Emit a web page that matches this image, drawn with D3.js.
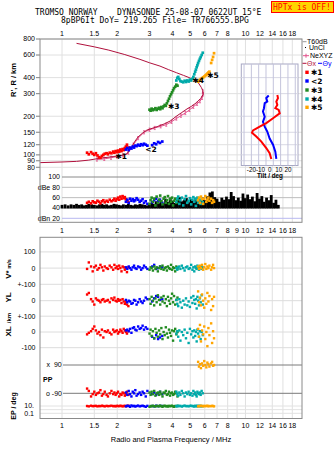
<!DOCTYPE html>
<html>
<head>
<meta charset="utf-8">
<script src="https://cdn.jsdelivr.net/npm/d3@7"></script>
<style>
body { margin: 0; background: #fff; }
svg { display: block; }
text { font-family: "Liberation Sans", Arial, sans-serif; }
</style>
</head>
<body>
<div id="wrapper"></div>
<script>
// ---- tick values ----
const topTicks = [1, 1.5, 2, 3, 4, 5, 6, 7, 8, 10, 12, 14, 16, 18];
const midTicks = [1, 1.5, 2, 3, 4, 5, 6, 7, 8, 9, 10, 12, 14, 16, 18];
const gridFreqs = [1, 1.5, 2, 3, 4, 5, 6, 7, 8, 9, 10, 12, 14, 16, 18];
const heightTicks = [80, 90, 100, 120, 150, 200, 300, 400, 600, 800];
const ampTicks = [100, 80, 60, 40, 20];
const ampLabels = ["100", "dBe 80", "60", "40", "dBn 20"];
const tiltGrid = [-28, -20, -12, -4, 4, 12, 20, 28];
const tiltTicks = [-20, -10, 0, 10, 20];

// ---- echoes: [freq MHz, R' km, amp dB, V* m/s, YL km, XL km, PP deg, EP deg] ----
const echo1 = [
  [1.37,104,50,-5,40,-15,-60,10],[1.40,101,52,35,50,-5,-75,8],[1.44,105,49,10,10,5,-110,12],
  [1.47,102,53,-20,-5,20,-95,9],[1.50,100,51,5,-25,35,-80,10],[1.53,103,50,15,15,10,-100,11],
  [1.56,99,54,-10,5,-10,-90,8],[1.59,96,52,0,0,0,-85,10],[1.62,95,49,20,-10,-20,-70,9],
  [1.65,98,53,5,5,15,-105,12],[1.68,100,55,-15,10,-35,-95,10],[1.71,102,51,10,-5,5,-80,8],
  [1.75,103,54,0,0,0,-100,11],[1.78,101,52,-5,5,10,-110,9],[1.82,104,56,15,-10,-5,-90,10],
  [1.86,103,53,5,15,-15,-75,12],[1.90,106,55,-10,5,15,-95,9],[1.93,104,58,20,20,0,-85,10],
  [1.96,107,54,0,0,5,-100,8],[1.99,105,57,10,-5,10,-90,11],[2.02,108,60,-5,10,-10,-80,10],
  [2.05,106,56,15,0,0,-110,9],[2.08,110,62,0,5,15,-95,12],[2.11,107,58,-20,-15,5,-100,10],
  [2.14,111,63,10,10,-5,-85,8],[2.17,109,59,5,-5,20,-90,10],[2.20,113,61,-10,-20,10,-105,11],
  [2.23,116,57,0,-10,0,-95,9],[2.26,120,55,-25,-25,-10,-80,10],[2.30,114,52,5,-35,5,-100,12]
];
const echo2 = [
  [2.23,110,52,5,5,10,-85,8],[2.27,113,56,-5,-10,15,-100,12],[2.31,109,50,10,0,5,-75,10],
  [2.35,114,58,0,-5,20,-95,6],[2.39,112,54,-10,-20,-5,-110,14],[2.43,116,57,5,-15,25,-80,9],
  [2.47,114,53,15,5,30,-90,11],[2.51,118,55,0,0,15,-70,7],[2.55,117,59,-5,-25,10,-105,10],
  [2.60,120,56,10,-10,35,-95,13],[2.65,118,52,5,10,20,-85,8],[2.70,121,54,-10,-5,25,-100,10],
  [2.75,119,57,0,-15,40,-80,12],[2.80,122,50,15,0,15,-90,9],[2.86,120,53,5,20,30,-110,6],
  [2.92,118,48,-5,10,20,-75,11],[3.10,119,51,10,-5,-30,-95,10],[3.18,123,55,20,15,-40,-85,8],
  [3.26,121,58,-5,30,-20,-100,12],[3.34,126,53,0,25,-45,-90,9],[3.42,124,56,10,5,-35,-80,11],
  [3.52,127,50,5,10,-25,-95,10]
];
const echo3 = [
  [3.00,225,48,-10,10,-10,-85,6],[3.04,221,55,5,-20,15,-100,10],[3.08,229,60,0,25,-25,-80,8],
  [3.13,223,52,-15,0,5,-95,12],[3.18,226,58,10,-30,-40,-75,9],[3.23,231,45,-5,15,20,-105,7],
  [3.28,224,62,5,-10,-5,-90,11],[3.33,229,50,-20,35,-30,-85,10],[3.38,233,56,0,5,10,-100,8],
  [3.43,227,64,10,-25,-15,-80,13],[3.48,236,53,-5,20,25,-95,9],[3.53,231,47,15,-5,-45,-110,6],
  [3.58,239,58,-10,30,0,-85,10],[3.63,245,61,0,-15,-20,-90,12],[3.68,241,50,5,10,30,-75,8],
  [3.73,252,55,-15,-35,-10,-100,10],[3.78,263,63,10,25,-35,-95,7],[3.83,274,48,0,0,15,-80,11],
  [3.88,286,57,-5,-20,-5,-105,9],[3.93,297,52,20,15,-25,-90,10],[3.98,307,60,-10,45,10,-85,12],
  [4.03,319,45,5,-10,-55,-100,8],[4.08,331,54,0,30,5,-95,6],[4.14,340,58,-20,-25,20,-80,10],
  [4.20,352,50,10,5,-15,-90,9],[4.26,346,56,-5,20,0,-110,11]
];
const echo4 = [
  [4.20,380,52,0,5,-10,-80,10],[4.25,398,58,-10,-20,5,-95,8],[4.30,405,62,5,-35,-30,-105,12],
  [4.36,390,48,10,10,10,-85,9],[4.42,376,55,-5,-10,-55,-100,11],[4.50,372,60,15,-45,0,-75,7],
  [4.58,368,45,0,0,-20,-90,10],[4.66,378,57,-15,-25,15,-110,13],[4.74,370,63,5,15,-40,-85,9],
  [4.82,380,50,10,-30,-5,-95,10],[4.90,373,54,-5,-5,-70,-80,8],[4.98,386,59,0,-40,20,-100,11],
  [5.06,380,47,20,20,-15,-90,12],[5.14,392,56,-10,-15,5,-105,9],[5.20,405,61,5,30,-35,-75,10],
  [5.26,425,52,-20,5,10,-95,7],[5.32,445,58,10,-20,-25,-85,11],[5.37,462,44,0,10,0,-100,10],
  [5.42,482,55,-5,-50,-60,-110,8],[5.47,500,60,15,25,15,-80,12],[5.52,520,50,5,0,-10,-90,9],
  [5.58,540,57,-10,-30,-30,-95,10],[5.64,560,53,0,15,5,-85,11],[5.70,578,48,10,-10,-45,-100,8],
  [5.77,600,56,-5,35,0,-75,10],[5.85,625,51,5,-25,-20,-90,9]
];
const echo5 = [
  [5.52,372,55,10,60,20,110,8],[5.58,378,60,-5,-10,-30,80,10],[5.65,385,50,15,20,45,95,9],
  [5.72,390,62,0,-30,-60,70,12],[5.80,396,57,20,40,10,100,10],[5.88,402,48,-10,0,-15,85,8],
  [5.96,408,58,5,-45,35,115,11],[6.04,415,63,25,15,-45,90,9],[6.12,422,52,-5,-20,0,75,10],
  [6.20,430,56,10,50,-90,105,12],[6.28,438,60,0,-5,25,95,8],[6.36,445,54,15,30,-20,80,10],
  [6.50,520,58,-10,-60,55,100,9],[6.58,550,50,5,10,-70,110,11],[6.66,580,55,20,-35,5,85,10],
  [6.74,620,52,0,25,-40,90,8]
];
const echoColors = ["#ff0000", "#0000ff", "#228b22", "#00aaaa", "#ffa500"];
const echoLabels = ["\u27311", "<2", "\u27313", "\u27314", "\u27315"];

// trace markers
const markerFreq = [2.02, 2.94, 3.91, 5.32, 6.40];
const markerHeight = [97, 111, 237, 379, 414];

// profile curve (freq, height)
const profile = [
  [0.76,87],[1.0,88],[1.2,89],[1.4,91],[1.6,94],[1.9,97],[2.1,99],[2.25,101],[2.3,106],
  [2.4,116],[2.5,128],[2.6,138],[2.75,148],[2.9,156],[3.1,161],[3.3,166],[3.6,174],
  [3.9,184],[4.2,200],[4.5,214],[4.8,228],[5.1,240],[5.4,255],[5.7,275],[5.88,296],
  [5.85,318],[5.75,335],[5.55,362],[5.3,380],[4.98,398],[4.6,416],[4.22,436],[3.8,462],
  [3.42,492],[3.0,522],[2.66,555],[2.2,605],[1.8,655],[1.5,695],[1.2,740]
];
// NeXYZ points
const nexyz = [
  [1.55,92],[1.7,93],[1.85,95],[2.0,97],[2.15,99],[2.3,104],[2.45,120],[2.6,135],
  [2.8,150],[3.0,157],[3.2,162],[3.45,167],[3.7,172],[3.95,181],[4.2,192],[4.45,202],
  [4.7,212],[4.95,224],[5.2,237],[5.45,250],[5.65,262],[5.8,278],[5.87,296],[5.85,312]
];
// tilt (deg, height km)
const tiltX = [
  [8.4,293],[9.1,277],[7.3,260],[8.4,245],[6.2,231],[9.9,224],[11,211],[3.7,193],
  [-3.7,177],[-10.9,166],[-18.2,155],[-19.3,149],[-14.6,139],[-9.1,127],[-3.7,113],[0,103],[1.8,93]
];
const tiltY = [
  [-1,290],[-3.7,277],[-2.6,260],[-5.4,253],[-6.2,231],[-7.3,218],[-5.4,198],[-7.3,181],
  [-5.4,166],[-2.6,152],[0,134],[3.7,120],[6.2,106],[7.3,93]
];
// receiver amplitude (freq, dB)
const ampTrace = [
  [1.00,46],[1.04,47],[1.08,45],[1.12,47],[1.16,46],[1.20,48],[1.24,46],[1.28,47],[1.32,45],
  [1.36,46],[1.40,48],[1.45,47],[1.50,46],[1.55,45],[1.60,47],[1.65,48],[1.70,46],[1.75,47],
  [1.80,45],[1.86,46],[1.92,48],[1.98,47],[2.04,46],[2.10,45],[2.16,47],[2.23,46],[2.30,48],
  [2.37,46],[2.44,45],[2.51,47],[2.58,46],[2.66,48],[2.74,47],[2.82,46],[2.90,45],[2.99,47],
  [3.08,50],[3.17,48],[3.26,53],[3.36,49],[3.46,55],[3.56,50],[3.67,58],[3.78,52],[3.89,60],
  [4.00,54],[4.12,50],[4.24,57],[4.37,61],[4.50,53],[4.63,56],[4.77,59],[4.91,51],[5.06,57],
  [5.21,54],[5.37,58],[5.53,53],[5.69,56],[5.86,60],[6.04,55],[6.22,63],[6.40,70],[6.60,72],
  [6.80,61],[7.00,58],[7.21,52],[7.43,60],[7.65,56],[7.88,62],[8.12,57],[8.36,71],[8.61,63],
  [8.87,55],[9.14,60],[9.41,54],[9.69,68],[9.98,59],[10.28,66],[10.59,57],[10.91,62],[11.24,53],
  [11.57,69],[11.92,58],[12.28,63],[12.65,52],[13.03,60],[13.42,55],[13.82,65],[14.24,50],
  [14.66,56],[15.10,46]
];

const W = 335, H = 451;
const svg = d3.select("#wrapper").append("svg").attr("width", W).attr("height", H);

const fx = d3.scaleLog().domain([1, 18]).range([62, 292.3]);
const hy = d3.scaleLog().domain([80, 800]).range([167.3, 39]);
const ay = d3.scaleLinear().domain([20, 100]).range([218.3, 177]);
const vy = d3.scaleLinear().domain([-100, 100]).range([284.3, 251.9]);
const yly = d3.scaleLinear().domain([-100, 100]).range([316.2, 285.2]);
const xly = d3.scaleLinear().domain([-100, 100]).range([347.7, 316.3]);
const ppy = d3.scaleLinear().domain([-90, 90]).range([393.3, 365]);
const epy = d3.scaleLog().domain([0.1, 10]).range([413.3, 406]);
const tx = d3.scaleLinear().domain([-31, 31]).range([241.3, 298]);

const L = 40, R = 302;
const topY0 = 39, topY1 = 222.3, lowY0 = 237.3, lowY1 = 418.5;
const gridCol = "#e0e0e0", frameCol = "#8a8a8a";

// title
svg.append("text").attr("x", 35).attr("y", 15)
  .attr("xml:space", "preserve")
  .style("font-family", "'DejaVu Sans Mono', monospace").style("font-size", "8px")
  .text("TROMSO NORWAY    DYNASONDE 25-08-07 0622UT 15\u00b0E");
svg.append("text").attr("x", 61).attr("y", 22.8)
  .style("font-family", "'DejaVu Sans Mono', monospace").style("font-size", "8px")
  .text("8pBP6It DoY= 219.265 File= TR766555.BPG");
svg.append("rect").attr("x", 271.5).attr("y", 1.5).attr("width", 62).attr("height", 11)
  .attr("fill", "#ffd400").attr("stroke", "#ff0000");
svg.append("text").attr("x", 273).attr("y", 10)
  .style("font-family", "'DejaVu Sans Mono', monospace").style("font-size", "8px")
  .attr("fill", "#ff0000").text("HPTx is OFF!");

// vertical grid
[[topY0, topY1], [lowY0, lowY1]].forEach(([a, b]) => {
  svg.append("g").selectAll("line").data(gridFreqs).join("line")
    .attr("x1", d => fx(d)).attr("x2", d => fx(d)).attr("y1", a).attr("y2", b)
    .attr("stroke", gridCol);
});

// height grid + labels
svg.append("g").selectAll("line").data(heightTicks).join("line")
  .attr("x1", 36).attr("x2", R).attr("y1", d => hy(d)).attr("y2", d => hy(d))
  .attr("stroke", gridCol);
svg.append("g").selectAll("line").data(heightTicks).join("line")
  .attr("x1", 36).attr("x2", L).attr("y1", d => hy(d)).attr("y2", d => hy(d))
  .attr("stroke", frameCol);
svg.append("g").selectAll("text").data(heightTicks).join("text")
  .attr("x", 35).attr("y", d => hy(d)).attr("dy", "0.35em").attr("text-anchor", "end")
  .style("font-size", "7px").text(d => d);

// amplitude grid
svg.append("g").selectAll("line").data(ampTicks).join("line")
  .attr("x1", 62).attr("x2", R).attr("y1", d => ay(d)).attr("y2", d => ay(d))
  .attr("stroke", (d, i) => i === 0 ? frameCol : (d === 20 ? "#b8b8f0" : "#bdbdbd"));
svg.append("g").selectAll("text").data(ampTicks).join("text")
  .attr("x", 60).attr("y", d => ay(d)).attr("dy", "0.35em").attr("text-anchor", "end")
  .style("font-size", "7px").text((d, i) => ampLabels[i]);

// frequency labels
svg.append("g").selectAll("text").data(topTicks).join("text")
  .attr("x", d => fx(d)).attr("y", 35.5).attr("text-anchor", "middle")
  .style("font-size", "7px").text(d => d);
svg.append("g").selectAll("text").data(midTicks).join("text")
  .attr("x", d => fx(d)).attr("y", 232.5).attr("text-anchor", "middle")
  .style("font-size", "7px").text(d => d);
svg.append("g").selectAll("text").data(topTicks).join("text")
  .attr("x", d => fx(d)).attr("y", 428.3).attr("text-anchor", "middle")
  .style("font-size", "7px").text(d => d);

// clip for height panel
svg.append("defs").append("clipPath").attr("id", "clipMain")
  .append("rect").attr("x", L).attr("y", topY0).attr("width", R - L).attr("height", 172 - topY0);
const main = svg.append("g").attr("clip-path", "url(#clipMain)");

// NeXYZ line with small I markers
const line = d3.line().x(d => fx(d[0])).y(d => hy(d[1]));
main.append("path").datum(nexyz).attr("d", line)
  .attr("fill", "none").attr("stroke", "#e2508c").attr("stroke-width", 1);
const iMark = main.append("g").attr("stroke", "#e2508c").attr("stroke-width", 0.8);
nexyz.forEach(d => {
  const x = fx(d[0]), y = hy(d[1]);
  iMark.append("line").attr("x1", x).attr("x2", x).attr("y1", y - 1.6).attr("y2", y + 1.6);
  iMark.append("line").attr("x1", x - 1).attr("x2", x + 1).attr("y1", y - 1.6).attr("y2", y - 1.6);
  iMark.append("line").attr("x1", x - 1).attr("x2", x + 1).attr("y1", y + 1.6).attr("y2", y + 1.6);
});
// profile line
main.append("path").datum(profile).attr("d", line)
  .attr("fill", "none").attr("stroke", "#b0103c").attr("stroke-width", 1);

// echoes
const groups = [echo1, echo2, echo3, echo4, echo5];
const sq = 2.7;
groups.forEach((g, gi) => {
  main.append("g").selectAll("rect").data(g).join("rect")
    .attr("x", d => fx(d[0]) - sq / 2).attr("y", d => hy(d[1]) - sq / 2)
    .attr("width", sq).attr("height", sq).attr("fill", echoColors[gi]);
});
// trace markers
main.append("g").selectAll("text").data(markerFreq).join("text")
  .attr("x", d => fx(d) - 2.6).attr("y", (d, i) => hy(markerHeight[i])).attr("dy", "0.35em")
  .style("font-family", "'DejaVu Sans', sans-serif").style("font-size", "7.5px")
  .style("font-weight", "bold").text((d, i) => echoLabels[i]);

// tilt inset
svg.append("rect").attr("x", tx(-31)).attr("y", 64).attr("width", tx(31) - tx(-31)).attr("height", 101.5)
  .attr("fill", "#fff").attr("stroke", "#a8a8c4");
svg.append("g").selectAll("line").data(heightTicks.filter(d => hy(d) > 64 && hy(d) < 165.5)).join("line")
  .attr("x1", tx(-31)).attr("x2", tx(31)).attr("y1", d => hy(d)).attr("y2", d => hy(d))
  .attr("stroke", "#d8d8e4");
svg.append("g").selectAll("line").data(tiltGrid).join("line")
  .attr("x1", d => tx(d)).attr("x2", d => tx(d)).attr("y1", 64).attr("y2", 165.5)
  .attr("stroke", "#c4c4dc");
const tline = d3.line().x(d => tx(d[0])).y(d => hy(d[1]));
svg.append("path").datum(tiltY).attr("d", tline).attr("fill", "none")
  .attr("stroke", "#0000ff").attr("stroke-width", 2);
svg.append("path").datum(tiltX).attr("d", tline).attr("fill", "none")
  .attr("stroke", "#ff0000").attr("stroke-width", 2);
svg.append("g").selectAll("text").data(tiltTicks).join("text")
  .attr("x", d => tx(d)).attr("y", 172).attr("text-anchor", "middle")
  .style("font-size", "6.3px").text(d => d);
svg.append("text").attr("x", 270).attr("y", 177.5).attr("text-anchor", "middle")
  .style("font-size", "6.3px").style("font-weight", "bold").text("Tilt / deg");

// amplitude trace
svg.append("g").selectAll("line").data(ampTrace).join("line")
  .attr("x1", d => fx(d[0])).attr("x2", d => fx(d[0]))
  .attr("y1", ay(39)).attr("y2", d => ay(d[1]))
  .attr("stroke", "#000").attr("stroke-width", 2.8);
groups.forEach((g, gi) => {
  svg.append("g").selectAll("rect").data(g).join("rect")
    .attr("x", d => fx(d[0]) - 1.3).attr("y", d => ay(d[2]) - 1.3)
    .attr("width", 2.6).attr("height", 2.6).attr("fill", echoColors[gi]);
});

// lower panels grid
const lowLines = [
  [vy, 100], [vy, 0], [vy, -100], [yly, 0], [yly, -100], [xly, 0], [xly, -100]
];
svg.append("g").selectAll("line").data(lowLines).join("line")
  .attr("x1", L).attr("x2", R).attr("y1", d => d[0](d[1])).attr("y2", d => d[0](d[1]))
  .attr("stroke", "#dcdcdc");
svg.append("g").selectAll("line").data([10, 1, 0.1]).join("line")
  .attr("x1", L).attr("x2", R).attr("y1", d => epy(d)).attr("y2", d => epy(d))
  .attr("stroke", "#e2e2e2");
svg.append("g").selectAll("line").data([90, -90]).join("line")
  .attr("x1", 63).attr("x2", R).attr("y1", d => ppy(d)).attr("y2", d => ppy(d))
  .attr("stroke", "#7a7a7a");

const lowLabels = [
  [vy(100), "100"], [vy(0), "0"], [vy(-100), "+-100"], [yly(0), "0"],
  [yly(-100), "+-100"], [xly(0), "0"], [xly(-100), "-100"]
];
svg.append("g").selectAll("text").data(lowLabels).join("text")
  .attr("x", 35.5).attr("y", d => d[0]).attr("dy", "0.35em").attr("text-anchor", "end")
  .style("font-size", "7px").text(d => d[1]);
svg.append("text").attr("x", 46.5).attr("y", ppy(90)).attr("dy", "0.35em")
  .attr("xml:space", "preserve").style("font-size", "7px").text("x  90");
svg.append("text").attr("x", 46).attr("y", ppy(-90)).attr("dy", "0.35em")
  .style("font-size", "7px").text("o -90");
svg.append("text").attr("x", 43).attr("y", 382).style("font-size", "7px")
  .style("font-weight", "bold").text("PP");
svg.append("text").attr("x", 34).attr("y", epy(10)).attr("dy", "0.35em").attr("text-anchor", "end")
  .style("font-size", "7px").text("10.");
svg.append("text").attr("x", 34).attr("y", epy(0.1)).attr("dy", "0.35em").attr("text-anchor", "end")
  .style("font-size", "7px").text("0.1");

// lower panel echoes
const ls = 2.4;
groups.forEach((g, gi) => {
  const cols = [[3, vy], [4, yly], [5, xly], [6, ppy], [7, epy]];
  const gg = svg.append("g").attr("fill", echoColors[gi]);
  cols.forEach(([k, sc]) => {
    gg.append("g").selectAll("rect").data(g).join("rect")
      .attr("x", d => fx(d[0]) - ls / 2).attr("y", d => sc(d[k]) - ls / 2)
      .attr("width", ls).attr("height", ls);
  });
});

// frames
svg.append("rect").attr("x", L).attr("y", topY0).attr("width", R - L).attr("height", topY1 - topY0)
  .attr("fill", "none").attr("stroke", frameCol);
svg.append("rect").attr("x", L).attr("y", lowY0).attr("width", R - L).attr("height", lowY1 - lowY0)
  .attr("fill", "none").attr("stroke", frameCol);

// axis titles
function vlabel(x, y, txt, size, bold) {
  svg.append("text").attr("transform", `translate(${x},${y}) rotate(-90)`)
    .attr("text-anchor", "middle").style("font-size", size + "px")
    .style("font-weight", bold ? "bold" : "normal").text(txt);
}
vlabel(15.5, 80, "R', R / km", 7.5, true);
const vs = svg.append("text").attr("transform", "translate(11,269) rotate(-90)")
  .attr("text-anchor", "middle").style("font-weight", "bold");
vs.append("tspan").style("font-size", "8px").text("V*");
vs.append("tspan").style("font-size", "5.5px").text(" m/s");
vlabel(11, 297.5, "YL", 8, true);
vlabel(11, 318, "/km", 6, true);
vlabel(11, 331.5, "XL", 8, true);
vlabel(15.5, 406, "EP / deg", 7, true);
svg.append("text").attr("x", 171).attr("y", 441.5).attr("text-anchor", "middle")
  .style("font-size", "7.5px").text("Radio and Plasma Frequency / MHz");

// legend
const lg = svg.append("g").style("font-size", "7px");
lg.append("line").attr("x1", 302.5).attr("x2", 306.5).attr("y1", 41.7).attr("y2", 41.7).attr("stroke", "#999");
lg.append("text").attr("x", 307).attr("y", 41.7).attr("dy", "0.35em").text("T60dB");
lg.append("rect").attr("x", 305).attr("y", 47).attr("width", 1).attr("height", 1).attr("fill", "#000");
lg.append("text").attr("x", 309).attr("y", 47.3).attr("dy", "0.35em").text("UnCl");
lg.append("line").attr("x1", 303).attr("x2", 309).attr("y1", 55.7).attr("y2", 55.7).attr("stroke", "#e2508c");
lg.append("line").attr("x1", 306).attr("x2", 306).attr("y1", 53.7).attr("y2", 57.7).attr("stroke", "#e2508c");
lg.append("text").attr("x", 310).attr("y", 55.7).attr("dy", "0.35em").text("NeXYZ");
lg.append("line").attr("x1", 302.5).attr("x2", 306.5).attr("y1", 63.3).attr("y2", 63.3).attr("stroke", "#b0103c");
lg.append("text").attr("x", 307).attr("y", 63.3).attr("dy", "0.35em").attr("fill", "#b0103c").text("\u0398x");
lg.append("line").attr("x1", 318).attr("x2", 322).attr("y1", 63.3).attr("y2", 63.3).attr("stroke", "#0000ff");
lg.append("text").attr("x", 322.5).attr("y", 63.3).attr("dy", "0.35em").attr("fill", "#0000ff").text("\u0398y");
const legY = [72.3, 81, 90, 99, 107.3];
echoColors.forEach((c, i) => {
  lg.append("rect").attr("x", 305.3).attr("y", legY[i] - 1.7).attr("width", 3.4).attr("height", 3.4).attr("fill", c);
  lg.append("text").attr("x", 311).attr("y", legY[i]).attr("dy", "0.35em")
    .style("font-family", "'DejaVu Sans', sans-serif").style("font-size", "7.5px")
    .style("font-weight", "bold").text(echoLabels[i]);
});
</script>
</body>
</html>
